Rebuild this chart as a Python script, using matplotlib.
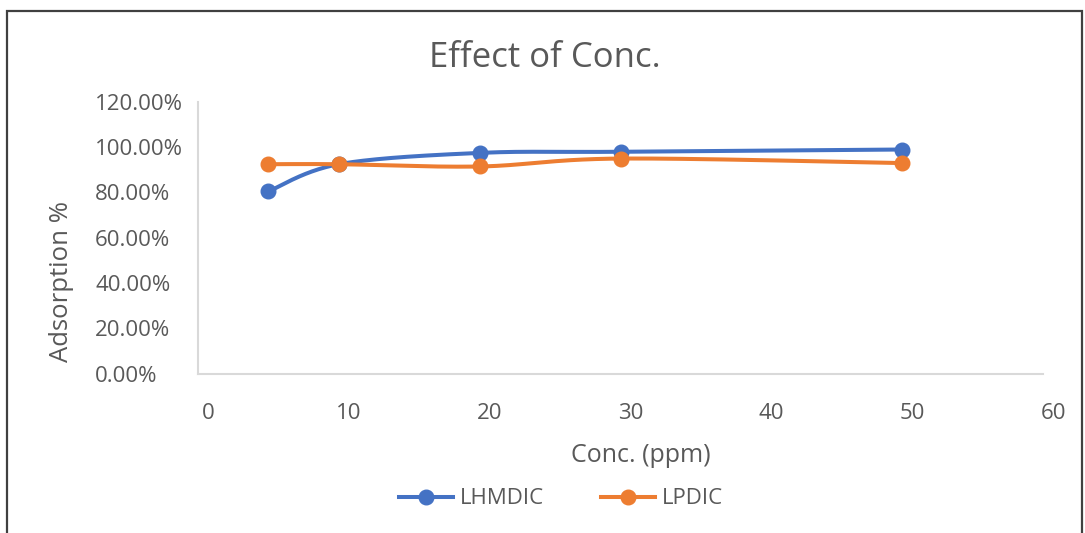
import numpy as np
import matplotlib
matplotlib.use("Agg")
import matplotlib.pyplot as plt
import matplotlib.transforms as mtransforms
from matplotlib.patches import Rectangle

plt.rcParams['font.family'] = ['Open Sans', 'DejaVu Sans']

conc = [5, 10, 20, 30, 50]
lhmdic = [0.805, 0.925, 0.975, 0.98, 0.99]
lpdic = [0.925, 0.925, 0.915, 0.95, 0.93]

x_ticks = [0, 10, 20, 30, 40, 50, 60]
y_ticks = [0.0, 0.2, 0.4, 0.6, 0.8, 1.0, 1.2]

TEXT = '#595959'
AXIS = '#d9d9d9'
BLUE = '#4472C4'
ORANGE = '#ED7D31'


def smooth(xs, ys, n=40):
    # bezier smoothing like a spreadsheet "smoothed line"
    p = np.column_stack([xs, ys]).astype(float)
    pts = np.vstack([p[0], p, p[-1]])
    out = []
    for i in range(1, len(pts) - 2):
        p0, p1 = pts[i], pts[i + 1]
        c1 = p0 + (pts[i + 1] - pts[i - 1]) / 6
        c2 = p1 - (pts[i + 2] - pts[i]) / 6
        t = np.linspace(0, 1, n)[:, None]
        seg = ((1 - t) ** 3) * p0 + 3 * ((1 - t) ** 2) * t * c1 + 3 * (1 - t) * t ** 2 * c2 + t ** 3 * p1
        out.append(seg)
    c = np.vstack(out)
    return c[:, 0], c[:, 1]


fig = plt.figure(figsize=(10.85, 5.33), dpi=100)
W, H = 1085, 533

# chart frame
fig.patches.append(Rectangle((7 / W, -0.05), (1082 - 7) / W, 1.05 - 11 / H,
                             transform=fig.transFigure, fill=False,
                             edgecolor='#404040', linewidth=1.6))

ax = fig.add_axes([198 / W, 1 - 373.5 / H, (1043 - 198) / W, (373.5 - 102) / H])

for ys, col, name in [(lhmdic, BLUE, 'LHMDIC'), (lpdic, ORANGE, 'LPDIC')]:
    sx, sy = smooth(conc, ys)
    ax.plot(sx, sy, color=col, linewidth=2.9, solid_capstyle='round')
    ax.plot(conc, ys, 'o', color=col, markersize=10.5)
    ax.plot([], [], '-o', color=col, linewidth=2.9, markersize=10.5, label=name)

ax.set_xlim(0, 60)
ax.set_ylim(0, 1.2)
ax.set_xticks(x_ticks)
ax.set_yticks(y_ticks)
ax.set_yticklabels(['{:.2f}%'.format(v * 100) for v in y_ticks])
ax.tick_params(length=0, colors=TEXT, labelsize=16)
ax.tick_params(axis='x', pad=21)
ax.tick_params(axis='y', pad=74)
for lab in ax.get_yticklabels():
    lab.set_horizontalalignment('left')
shift = mtransforms.ScaledTranslation(0.1, 0, fig.dpi_scale_trans)
for lab in ax.get_xticklabels():
    lab.set_transform(lab.get_transform() + shift)

for s in ['top', 'right']:
    ax.spines[s].set_visible(False)
for s in ['left', 'bottom']:
    ax.spines[s].set_color(AXIS)
    ax.spines[s].set_linewidth(1.5)

fig.text(545 / W, 1 - 58 / H, 'Effect of Conc.', ha='center', va='center',
         fontsize=25, color=TEXT)
fig.text(641 / W, 1 - 456 / H, 'Conc. (ppm)', ha='center', va='center',
         fontsize=18, color=TEXT)
fig.text(61 / W, 1 - 282 / H, 'Adsorption %', ha='center', va='center',
         rotation=90, fontsize=18.5, color=TEXT)

leg = fig.legend(loc='center', bbox_to_anchor=(561 / W, 1 - 499 / H), ncol=2,
                 frameon=False, fontsize=16, handlelength=2.4, columnspacing=2.6,
                 handletextpad=0.3)
for t in leg.get_texts():
    t.set_color(TEXT)

fig.savefig('out.png', dpi=100, facecolor='white')
